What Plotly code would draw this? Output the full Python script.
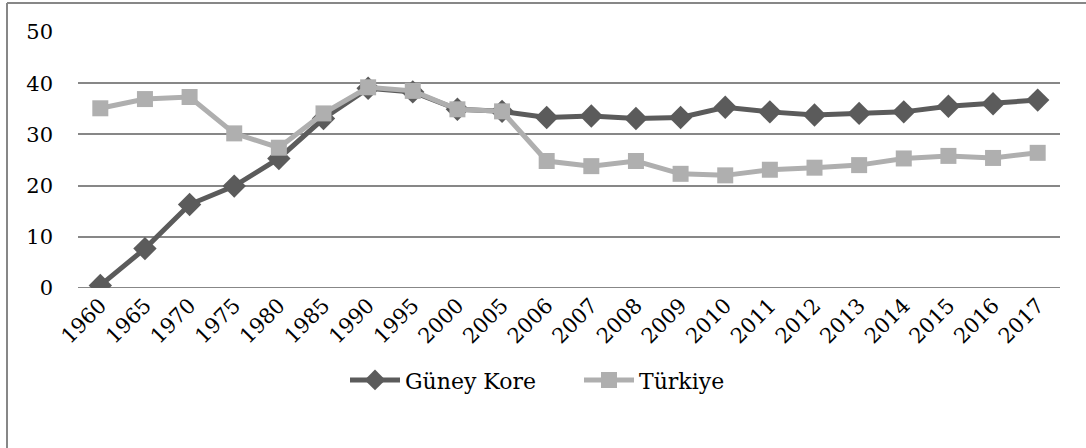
import plotly.graph_objects as go

years = ["1960", "1965", "1970", "1975", "1980", "1985", "1990", "1995", "2000", "2005",
         "2006", "2007", "2008", "2009", "2010", "2011", "2012", "2013", "2014", "2015",
         "2016", "2017"]
guney_kore = [0.5, 7.7, 16.3, 19.9, 25.3, 33.1, 39.0, 38.3, 34.9, 34.5,
              33.3, 33.6, 33.1, 33.3, 35.3, 34.4, 33.8, 34.1, 34.4, 35.5,
              36.0, 36.7]
turkiye = [35.1, 36.9, 37.3, 30.2, 27.4, 34.1, 39.2, 38.5, 34.9, 34.5,
           24.8, 23.8, 24.8, 22.3, 22.0, 23.1, 23.5, 24.0, 25.3, 25.8,
           25.4, 26.4]
y_ticks = [0, 10, 20, 30, 40, 50]

FONT = "DejaVu Serif"
DARK = "#5b5b5b"
LIGHT = "#afafaf"
GRID = "#878787"

fig = go.Figure()
fig.add_trace(go.Scatter(
    x=years, y=guney_kore, name="Güney Kore", mode="lines+markers",
    line=dict(color=DARK, width=5),
    marker=dict(symbol="diamond", size=18, color=DARK),
))
fig.add_trace(go.Scatter(
    x=years, y=turkiye, name="Türkiye", mode="lines+markers",
    line=dict(color=LIGHT, width=5),
    marker=dict(symbol="square", size=16, color=LIGHT),
))

fig.update_layout(
    width=1086, height=448,
    margin=dict(l=78, r=26, t=32, b=160),
    paper_bgcolor="white", plot_bgcolor="white",
    font=dict(family=FONT, size=20, color="black"),
    showlegend=True,
    legend=dict(orientation="h", x=(345 - 78) / 982, xanchor="left", y=-0.36, yanchor="middle",
                font=dict(family=FONT, size=22), itemwidth=50, tracegroupgap=0,
                entrywidth=169, entrywidthmode="pixels"),
    xaxis=dict(type="category", range=[-0.5, 21.5], showgrid=False, zeroline=False,
               showline=False, ticks="", tickangle=-45, automargin=False,
               tickfont=dict(family=FONT, size=21)),
    yaxis=dict(range=[0, 50], tickvals=y_ticks, showgrid=True, gridcolor=GRID,
               gridwidth=1.5, zeroline=False, showline=False, ticks="",
               ticklabelstandoff=24, automargin=False,
               tickfont=dict(family=FONT, size=21)),
    shapes=[
        dict(type="line", xref="paper", yref="paper", x0=-71/982, x1=1.03,
             y0=1 + 29/256, y1=1 + 29/256, line=dict(color=GRID, width=2)),
        dict(type="line", xref="paper", yref="paper", x0=-71/982, x1=-71/982,
             y0=1 + 29/256, y1=-0.7, line=dict(color=GRID, width=2)),
    ],
)
fig.add_shape(type="line", xref="paper", yref="y", x0=0, x1=1, y0=0, y1=0,
              line=dict(color=GRID, width=2), layer="below")

fig.write_html("out.html",
               config={"displayModeBar": False},
               post_script="document.body.style.margin='0';document.body.style.overflow='hidden';")
